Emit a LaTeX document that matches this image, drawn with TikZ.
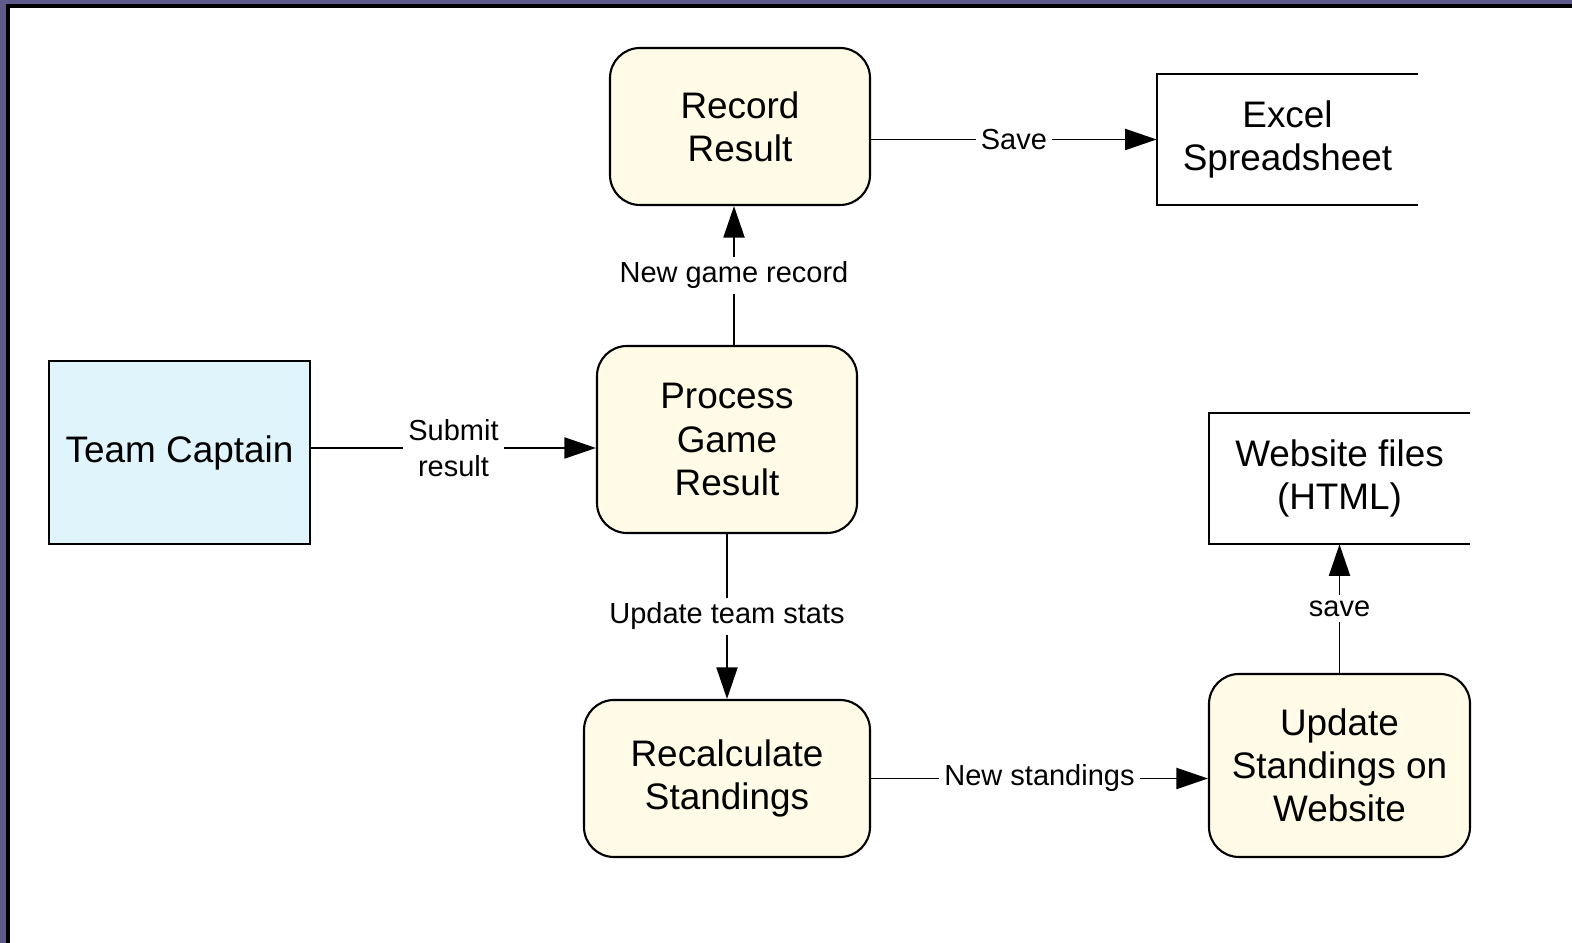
\documentclass[tikz,border=0pt]{standalone}
\usepackage{fontspec}
\setmainfont{Liberation Sans}
\usetikzlibrary{arrows.meta}
\definecolor{framepurple}{RGB}{94,90,140}
\definecolor{procyellow}{RGB}{255,251,230}
\definecolor{extblue}{RGB}{224,244,252}

\begin{document}
\begin{tikzpicture}[
    >={Triangle[length=18pt,width=12pt]},
    proc/.style={shape=rectangle,draw=black,line width=1.2pt,fill=procyellow,rounded corners=0.6cm,align=center,inner sep=0pt,font=\fontsize{21}{24.6}\selectfont},
    ext/.style={shape=rectangle,draw=black,line width=1.2pt,fill=extblue,align=center,inner sep=0pt,font=\fontsize{21}{24.6}\selectfont},
    store/.style={shape=rectangle,align=center,inner sep=0pt,font=\fontsize{21}{24.6}\selectfont},
    flow/.style={line width=1.1pt},
    lbl/.style={fill=white,inner sep=3pt,align=center,font=\fontsize{16.5}{20.4}\selectfont}
]
                % frame
                \fill[framepurple] (0,0) rectangle (31.44,18.86);
                \fill[black] (0.12,0) rectangle (31.44,18.78);
                \fill[white] (0.2,0) rectangle (31.44,18.70);
                \useasboundingbox (0,0) rectangle (31.44,18.86);

                \node[proc,minimum width=5.2cm,minimum height=3.14cm] (A) at (14.8,16.33) {Record\\Result};
                \node[store,minimum width=5.22cm,minimum height=2.62cm] (B) at (25.75,16.07) {Excel\\Spreadsheet};
                \node[proc,minimum width=5.2cm,minimum height=3.74cm] (C) at (14.54,10.07) {Process\\Game\\Result};
                \node[ext,minimum width=5.22cm,minimum height=3.66cm] (D) at (3.59,9.81) {Team Captain};
                \node[proc,minimum width=5.72cm,minimum height=3.14cm] (E) at (14.54,3.29) {Recalculate\\Standings};
                \node[proc,minimum width=5.22cm,minimum height=3.66cm] (F) at (26.79,3.55) {Update\\Standings on\\Website};
                \node[store,minimum width=5.22cm,minimum height=2.62cm] (G) at (26.79,9.29) {Website files\\(HTML)};

                % open data stores
                \draw[flow] (B.north east) -- (B.north west) -- (B.south west) -- (B.south east);
                \draw[flow] (G.north east) -- (G.north west) -- (G.south west) -- (G.south east);

                \path [->,flow](A.east |- B.west) edge node[lbl] {Save} (B.west);
                \path [->,flow]([xshift=0.14cm]C.north) edge node[lbl] {New game record} ([xshift=-0.12cm]A.south);
                \path [->,flow]([yshift=0.09cm]D.east) edge node[lbl] {Submit\\result} ([yshift=-0.17cm]C.west);
                \path [->,flow](C) edge node[lbl] {Update team stats} (E);
                \path [->,flow](E.east) edge node[lbl] {New standings} (E.east -| F.west);
                \path [->,flow](F) edge node[lbl] {save} (G);
\end{tikzpicture}
\end{document}
